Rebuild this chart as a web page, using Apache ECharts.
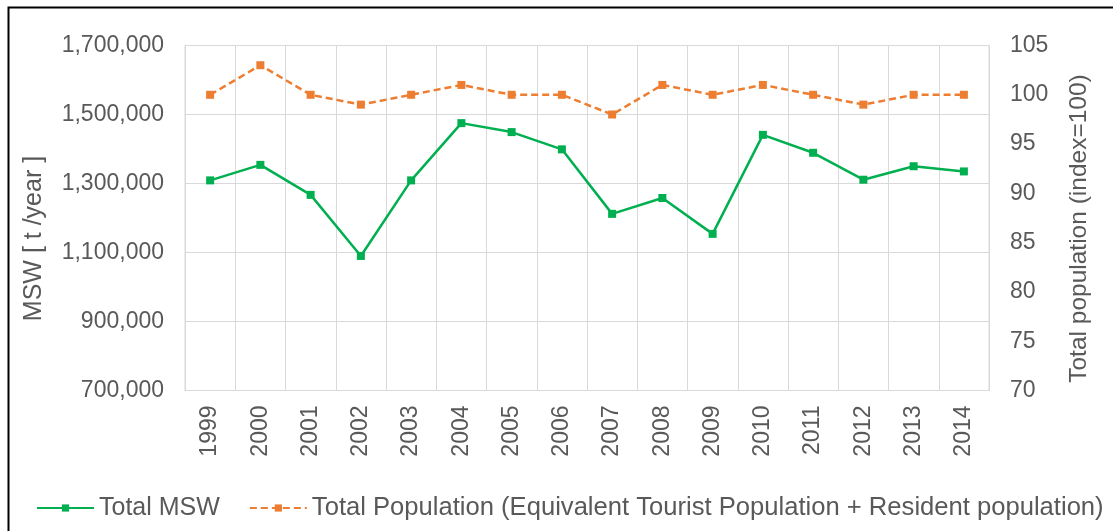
<!DOCTYPE html>
<html>
<head>
<meta charset="utf-8">
<script src="https://cdn.jsdelivr.net/npm/echarts@6/dist/echarts.min.js"></script>
<style>
html,body{margin:0;padding:0;background:#fff;}
#chart{width:1113px;height:531px;}
</style>
</head>
<body>
<div id="chart"></div>
<script>
const years = ['1999','2000','2001','2002','2003','2004','2005','2006','2007','2008','2009','2010','2011','2012','2013','2014'];
const totalMSW = [1309000, 1354000, 1267000, 1090000, 1309000, 1475000, 1449000, 1399000, 1212000, 1258000, 1154000, 1441000, 1389000, 1311000, 1350000, 1335000];
const totalPopulation = [100, 103, 100, 99, 100, 101, 100, 100, 98, 101, 100, 101, 100, 99, 100, 100];
const seriesNames = ['Total MSW', 'Total Population (Equivalent Tourist Population + Resident population)'];
const leftAxisTitle = 'MSW [ t /year ]';
const rightAxisTitle = 'Total population (index=100)';

const FONT = 'Liberation Sans, Arial, sans-serif';
const TXT = '#595959';
const GRID = '#D9D9D9';

const chart = echarts.init(document.getElementById('chart'), null, {renderer: 'canvas'});
chart.setOption({
  backgroundColor: '#fff',
  animation: false,
  textStyle: {fontFamily: FONT},
  grid: {left: 185, right: 124, top: 45.5, bottom: 140.5, containLabel: false,
         show: true, borderColor: GRID, borderWidth: 1},
  legend: {
    left: 31, top: 490, width: 1300, orient: 'horizontal',
    itemWidth: 57, itemHeight: 9, itemGap: 29,
    textStyle: {fontFamily: FONT, fontSize: 25, color: TXT},
    data: [
      {name: seriesNames[0]},
      {name: seriesNames[1], textStyle: {fontSize: 25.6}}
    ]
  },
  xAxis: {
    type: 'category', data: years, boundaryGap: true,
    axisLine: {show: true, lineStyle: {color: GRID, width: 1}},
    axisTick: {show: false},
    splitLine: {show: true, lineStyle: {color: GRID, width: 1}},
    axisLabel: {rotate: 90, margin: 15, fontSize: 23, color: TXT, fontFamily: FONT, interval: 0}
  },
  yAxis: [{
    type: 'value', min: 700000, max: 1700000, interval: 200000,
    axisLine: {show: false}, axisTick: {show: false},
    splitLine: {show: true, lineStyle: {color: GRID, width: 1}},
    axisLabel: {margin: 21, fontSize: 23, color: TXT, fontFamily: FONT,
      formatter: v => v.toLocaleString('en-US')}
  }, {
    type: 'value', min: 70, max: 105, interval: 5, position: 'right',
    axisLine: {show: false}, axisTick: {show: false},
    splitLine: {show: false},
    axisLabel: {margin: 21, fontSize: 23, color: TXT, fontFamily: FONT}
  }],
  series: [{
    name: seriesNames[0], type: 'line', data: totalMSW, yAxisIndex: 0,
    symbol: 'rect', symbolSize: 8,
    lineStyle: {color: '#00B050', width: 2.5},
    itemStyle: {color: '#00B050'}
  }, {
    name: seriesNames[1], type: 'line', data: totalPopulation, yAxisIndex: 1,
    symbol: 'rect', symbolSize: 8,
    lineStyle: {color: '#ED7D31', width: 2.5, type: [7, 4]},
    itemStyle: {color: '#ED7D31'}
  }],
  graphic: [{
    type: 'rect', left: 6, top: 5, silent: true,
    shape: {x: 0, y: 0, width: 1130, height: 600},
    style: {fill: 'none', stroke: '#000', lineWidth: 2}
  }, {
    type: 'text', x: 34.5, y: 238.5, rotation: Math.PI / 2,
    style: {text: leftAxisTitle, fill: TXT, font: '25px ' + FONT, align: 'center', verticalAlign: 'middle'}
  }, {
    type: 'text', x: 1079, y: 228.5, rotation: Math.PI / 2,
    style: {text: rightAxisTitle, fill: TXT, font: '24.5px ' + FONT, align: 'center', verticalAlign: 'middle'}
  }]
});
</script>
</body>
</html>
